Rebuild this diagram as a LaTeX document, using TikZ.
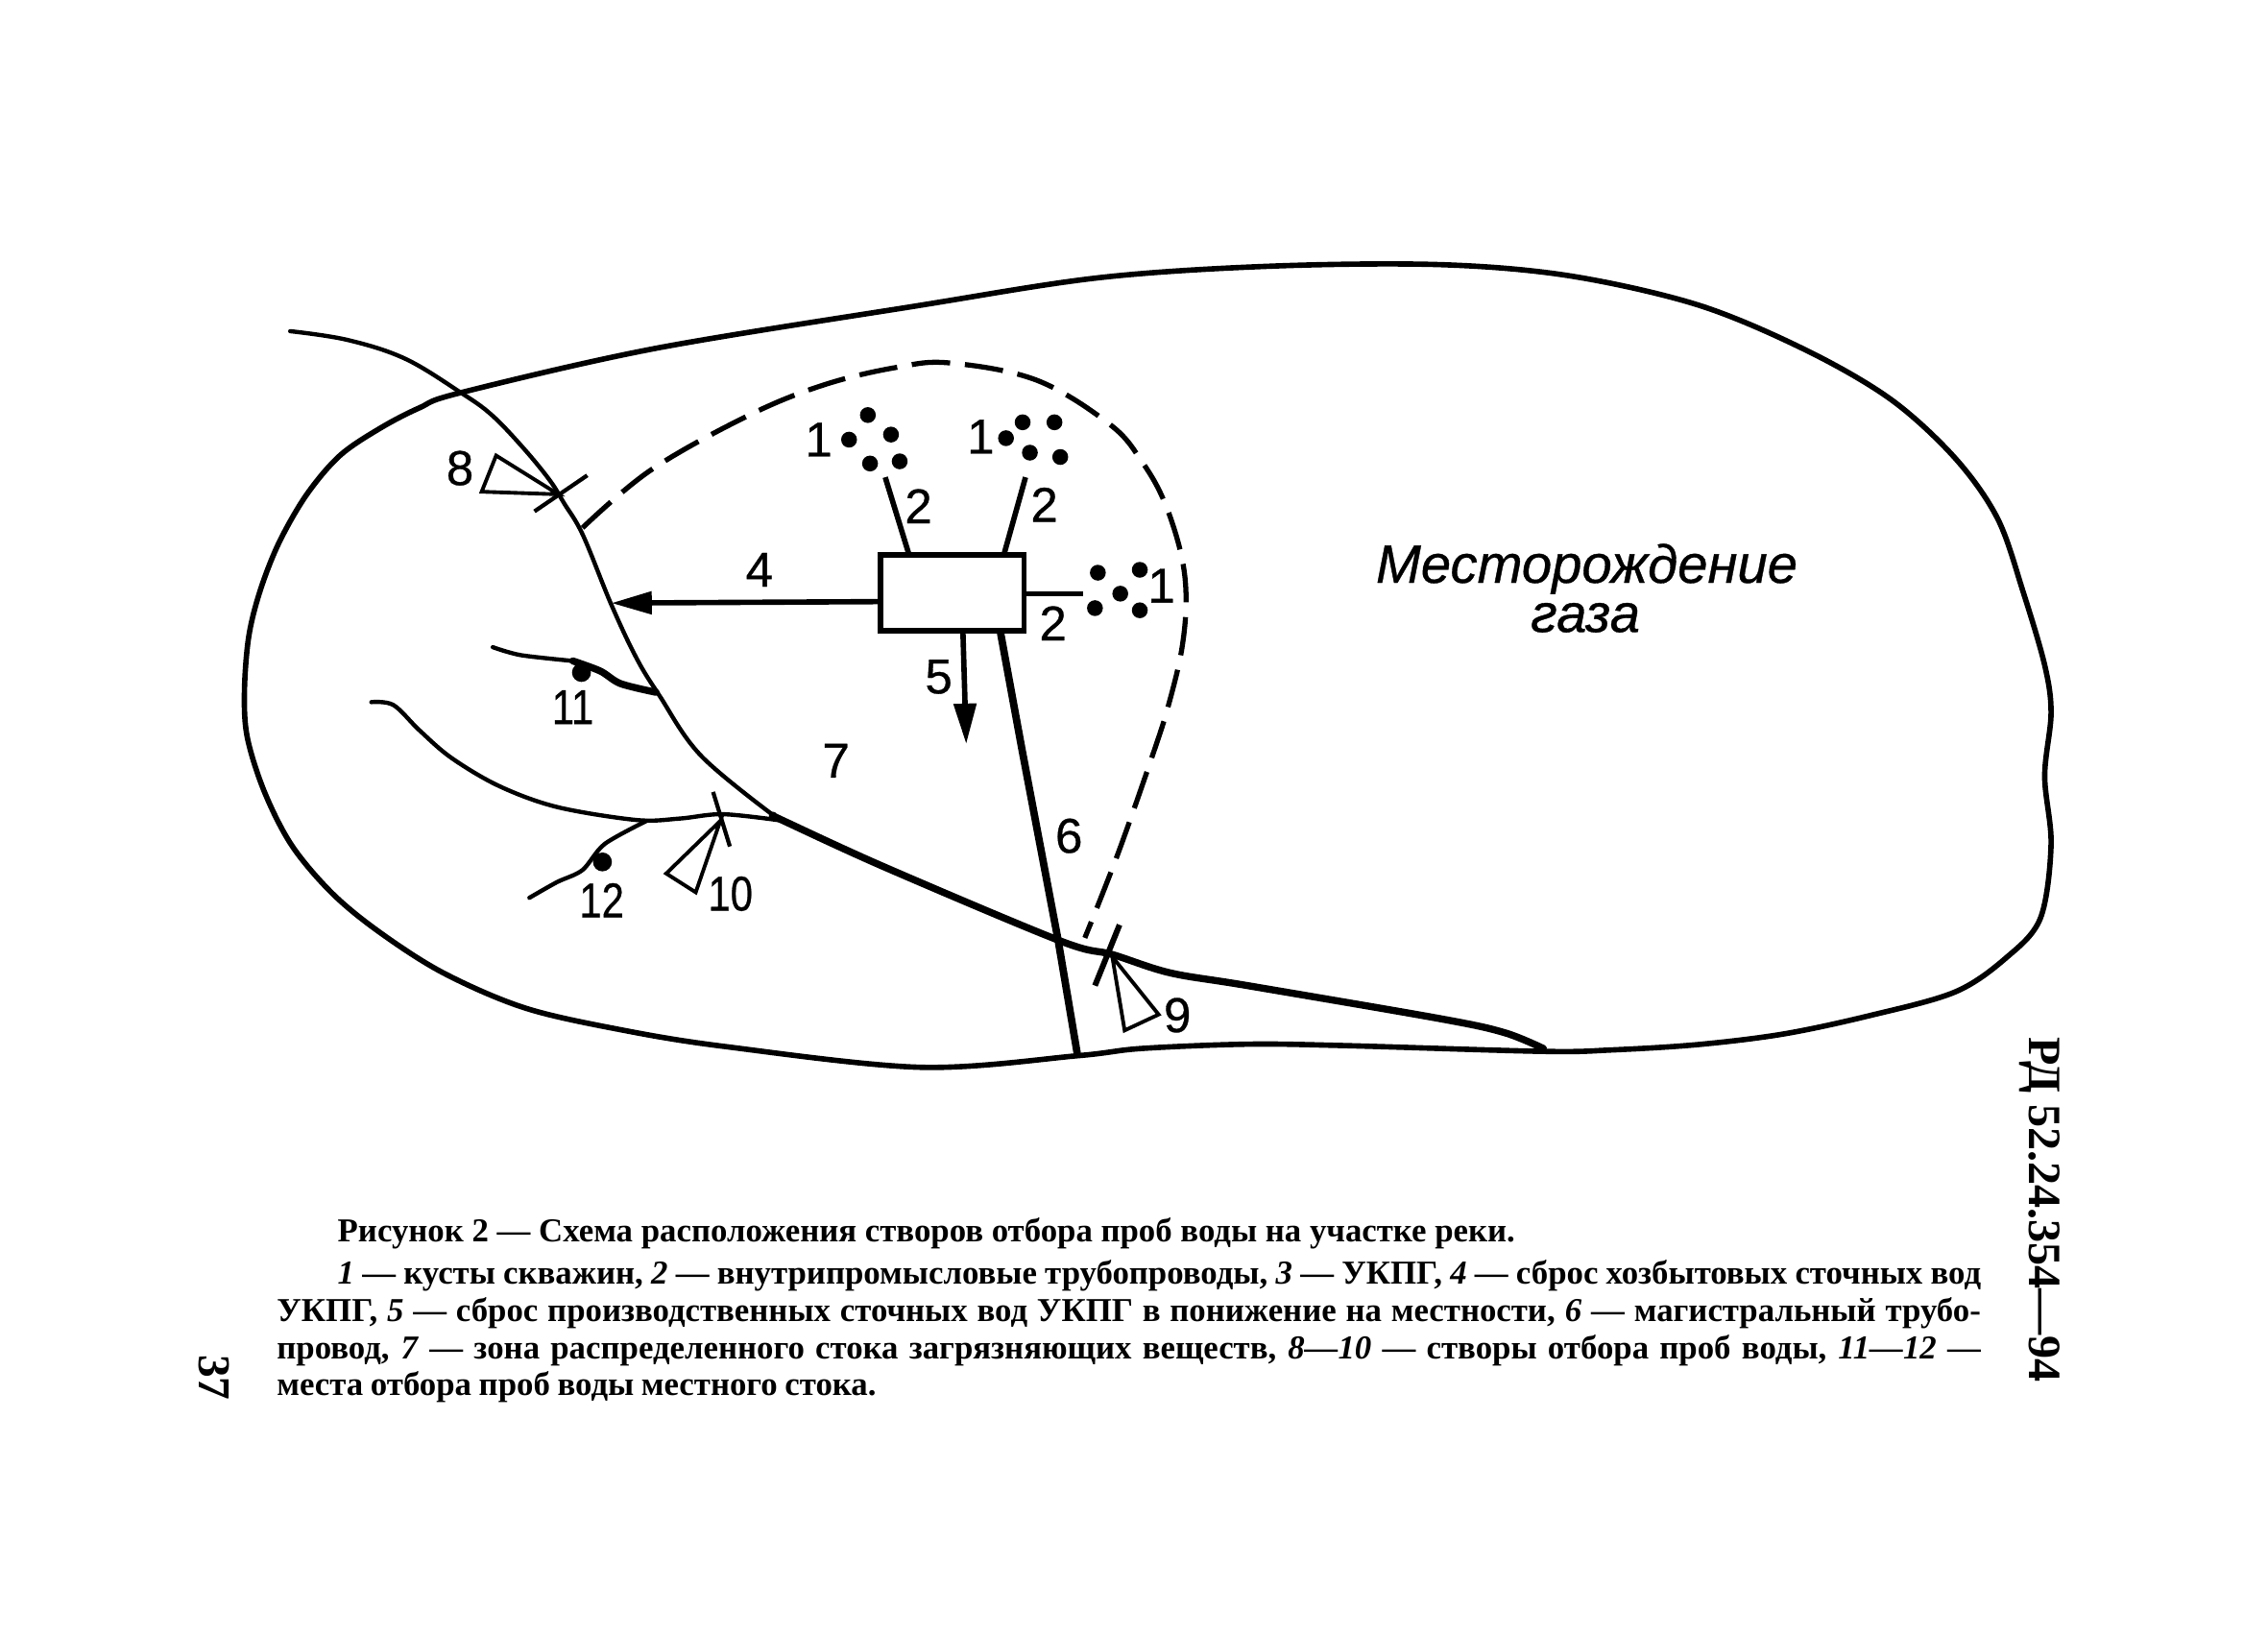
\documentclass[tikz,border=0pt]{standalone}
\usepackage{fontspec}
\setmainfont{Liberation Serif}
\newfontfamily\lblfont[FakeBold=0.6]{Liberation Sans}
\usetikzlibrary{arrows.meta}
\tikzset{
  outline/.style={line width=1.6pt,line cap=round,line join=round},
  riverthin/.style={line width=1.25pt,line cap=round,line join=round},
  riverthick/.style={line width=2.1pt,line cap=round,line join=round},
  zone/.style={line width=1.5pt,dash pattern=on 11.4pt off 4.4pt},
  pipe/.style={line width=1.6pt},
  mainpipe/.style={line width=2.2pt},
  drain/.style={line width=1.6pt,-{Triangle[length=12pt,width=6.5pt]}},
  site/.style={line width=1.1pt,line join=miter},
  crossbar/.style={line width=1.2pt},
  well/.style={circle,fill=black,inner sep=0pt,minimum size=4.7pt},
  sample/.style={circle,fill=black,inner sep=0pt,minimum size=5.6pt},
  lbl/.style={font=\lblfont\fontsize{14.5}{15}\selectfont,inner sep=0pt},
  lbltwo/.style={lbl,xscale=0.82},
  fieldname/.style={font=\lblfont\itshape\fontsize{16}{18}\selectfont,inner sep=0pt,anchor=base},
  captionline/.style={font=\fontsize{9.9}{11}\selectfont\bfseries,anchor=west,inner sep=0pt},
}
\newcommand{\capline}[2]{\hbox to #1{#2}}
\begin{document}
\begin{tikzpicture}[x=0.015064cm,y=-0.015064cm]
\fill[white] (0,0) rectangle (1568,1129.2);
\useasboundingbox (0,0) rectangle (1568,1129.2);

% outer boundary
\draw[outline] plot[smooth cycle,tension=0.55] coordinates {
 (745,730) (636.6,738) (501,723.6) (429,712) (363,697) (307,673) (263,645) (230,618)
 (202,585) (183,548) (171,510) (169,478) (172,440) (180,408) (193,375) (212,342)
 (235,315) (263,296) (290,282) (318.6,271.5) (452.6,241) (630.6,212) (760,192) (880,184)
 (996,183) (1085,190.7) (1173.7,210.8) (1247.7,241.7) (1307,276) (1351.6,316.7) (1381,358.5)
 (1398.7,409.3) (1413.6,460) (1418,493) (1413.6,536.7) (1418,584) (1410.6,635) (1386.8,662.4)
 (1351.4,686) (1292,702.4) (1232.8,715) (1173.7,722.3) (1114.3,726) (1067,727)
 (930,723) (863,722) (789,725)};

% river
\draw[riverthin] plot[smooth,tension=0.6] coordinates {
 (200.6,229) (240,235) (280,248) (318.6,271.5) (340,287) (362,310) (380,332) (390,348)
 (403,370) (422.6,418) (440,455) (455.8,480.8) (484.6,522.5) (535,564)};
\draw[riverthick] plot[smooth,tension=0.55] coordinates {
 (535,564) (541.8,567.6) (612.6,600) (733,650.6) (769,660) (809,672.7) (863,681.6)
 (995.8,704.4) (1040,714) (1067,725)};

% tributaries
\draw[riverthin] plot[smooth,tension=0.55] coordinates {
 (256.7,485.5) (272,487.5) (290,505) (312,524) (345,543.5) (385,558) (440,567) (470,566)
 (500,563) (541.8,567.6)};
\draw[riverthin] plot[smooth,tension=0.5] coordinates {
 (447,567.6) (418,583.6) (402.7,601.6) (385,610) (366,620.8)};
\draw[riverthin] plot[smooth,tension=0.5] coordinates {(340.7,447.5) (360,453) (396,457)};
\draw[riverthick] plot[smooth,tension=0.5] coordinates {(396,457) (415,464) (429,472.7) (453.5,478.7)};
\node[sample] (s11) at (402,465) {};
\node[sample] (s12) at (416.5,596) {};

% zone
\draw[zone] plot[smooth,tension=0.6] coordinates {
 (402.7,365) (450,325) (518,287) (570,266) (620,254) (657,251) (717,263) (768,294) (790,320)
 (805,347) (816.5,383) (820,414) (817,449) (808,487) (797.6,520) (773,590) (750,648.5)};

% plant and wells
\node[draw,line width=1.6pt,inner sep=0pt,
      minimum width=1.496cm,minimum height=0.793cm] (box) at (658.3,410) {};

\foreach \n/\x/\y in {a/600/287,b/587/304,c/616/300.5,d/601.5/320.5,e/622/319,
                      f/707/292,g/729/292,h/695.5/303,i/712/313,j/733/316,
                      k/759/396,l/788/394,m/774.5/410.5,n/757/420.5,o/788/422}
  \node[well] (w\n) at (\x,\y) {};

\coordinate (p1) at (612,330);
\coordinate (p2) at (709,330);
\coordinate (p3) at (749,410.5);
\coordinate (q1) at (628.5,383.7);
\coordinate (q2) at (694,383.7);
\coordinate (r4) at (422.6,417);
\coordinate (r5) at (668,514.5);
\coordinate (q5) at (665.7,436.3);
\coordinate (q6) at (691.5,436.3);
\coordinate (m6) at (706.5,518);
\coordinate (n6) at (731.6,650.5);
\coordinate (j6) at (745,730);

\draw[pipe] (p1) -- (q1);
\draw[pipe] (p2) -- (q2);
\draw[pipe] (box.east |- p3) -- (p3);
\draw[drain] (box.west |- 0,416) -- (r4);
\draw[drain] (q5) -- (r5);
\draw[mainpipe] (q6) -- (m6) -- (n6) -- (j6);

% sampling sites
\coordinate (a8) at (386,341.8);
\coordinate (a9) at (769,661.6);
\coordinate (a10) at (498,567.6);
\coordinate (c8a) at (369.5,353.6);
\coordinate (c8b) at (406,328.7);
\coordinate (c9a) at (774,639.5);
\coordinate (c9b) at (757,681.5);
\coordinate (c10a) at (493,547.6);
\coordinate (c10b) at (504.6,585.3);
\coordinate (t8a) at (343,315);
\coordinate (t8b) at (333,340);
\coordinate (t9a) at (801,701.5);
\coordinate (t9b) at (777.5,712.5);
\coordinate (t10a) at (460.6,604);
\coordinate (t10b) at (481,617);
\draw[crossbar] (c8a) -- (c8b);
\draw[crossbar,line width=1.7pt] (c9a) -- (c9b);
\draw[crossbar] (c10a) -- (c10b);
\draw[site] (a8) -- (t8a) -- (t8b) -- cycle;
\draw[site] (a9) -- (t9a) -- (t9b) -- cycle;
\draw[site] (a10) -- (t10a) -- (t10b) -- cycle;

% labels
\node[lbl] (l1a) at (566,304) {1};
\node[lbl] (l1b) at (678,302) {1};
\node[lbl] (l1c) at (803,405) {1};
\node[lbl] (l2a) at (635,350) {2};
\node[lbl] (l2b) at (722,349) {2};
\node[lbl] (l2c) at (728,431) {2};
\node[lbl] (l4) at (525,394) {4};
\node[lbl] (l5) at (649,468) {5};
\node[lbl] (l6) at (739,578) {6};
\node[lbl] (l7) at (578,526) {7};
\node[lbl] (l8) at (318,323.7) {8};
\node[lbl] (l9) at (814,702) {9};
\node[lbltwo] (l10) at (505,618) {10};
\node[lbltwo] (l11) at (396,489) {11};
\node[lbltwo] (l12) at (416,622.5) {12};
\node[fieldname] (t1) at (1097,403) {Месторождение};
\node[fieldname] (t2) at (1096,437) {газа};

% caption
\node[captionline] (c1) at (233,853) {\capline{12.26cm}{Рисунок 2 — Схема расположения створов отбора проб воды на участке реки.}};
\node[captionline] (c2) at (233,882) {\capline{17.11cm}{\textit{1} — кусты скважин, \textit{2} — внутрипромысловые трубопроводы, \textit{3} — УКПГ, \textit{4} — сброс хозбытовых сточных вод}};
\node[captionline] (c3) at (191,908) {\capline{17.74cm}{УКПГ, \textit{5} — сброс производственных сточных вод УКПГ в понижение на местности, \textit{6} — магистральный трубо-}};
\node[captionline] (c4) at (191,934) {\capline{17.74cm}{провод, \textit{7} — зона распределенного стока загрязняющих веществ, \textit{8—10} — створы отбора проб воды, \textit{11—12} —}};
\node[captionline] (c5) at (191,959) {\capline{6.24cm}{места отбора проб воды местного стока.}};
\node[font=\fontsize{13.7}{14}\selectfont\bfseries,rotate=-90,inner sep=0pt] (side) at (1410,836.5) {РД 52.24.354—94};
\node[font=\fontsize{13.5}{14}\selectfont\bfseries,rotate=-90,inner sep=0pt] (page) at (148,952.5) {37};
\end{tikzpicture}
\end{document}
